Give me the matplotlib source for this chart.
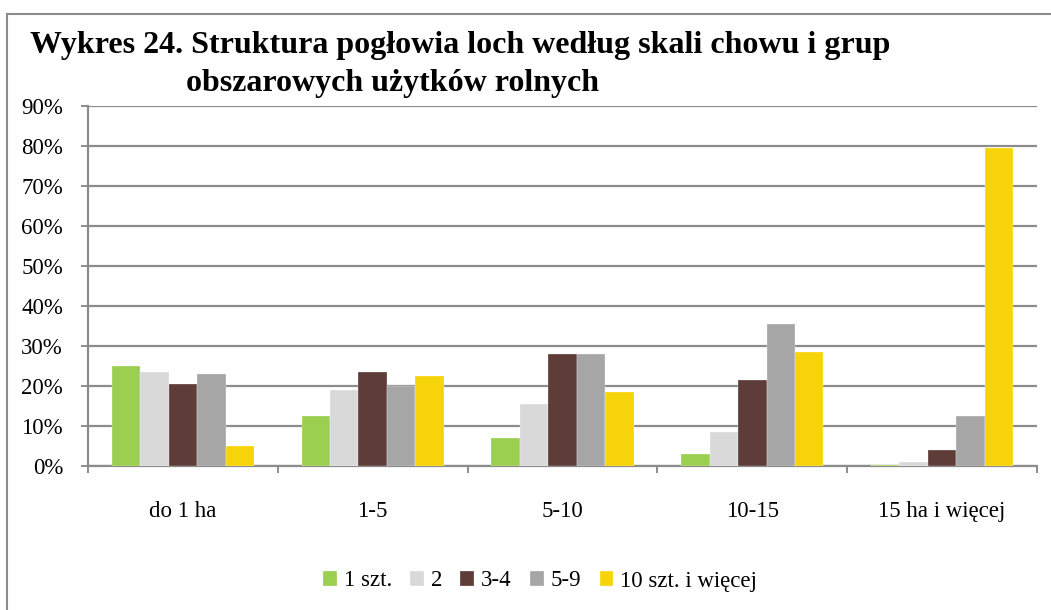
import numpy as np
import matplotlib
matplotlib.use('Agg')
import matplotlib.pyplot as plt
from matplotlib.lines import Line2D

# dane (%)
kategorie = ['do 1 ha', '1-5', '5-10', '10-15', '15 ha i więcej']
serie = ['1 szt.', '2', '3-4', '5-9', '10 szt. i więcej']
s1 = [25.2, 12.7, 7.2, 3.2, 0.3]
s2 = [23.7, 19.2, 15.6, 8.7, 1.2]
s3 = [20.6, 23.7, 28.2, 21.7, 4.2]
s4 = [23.2, 20.2, 28.2, 35.7, 12.7]
s5 = [5.2, 22.7, 18.7, 28.7, 79.7]
kolory = ['#9bcf50', '#d9d9d9', '#5e3c38', '#a6a6a6', '#f7d40a']

plt.rcParams['font.family'] = ['Liberation Serif', 'DejaVu Serif']

fig = plt.figure(figsize=(10.51, 6.10), dpi=100)
ax = fig.add_axes([88/1051, 1-466.3/610, (1037-88)/1051, (466.3-106.3)/610])

x = np.arange(len(kategorie)) + 0.5
w = 0.15
dane = [s1, s2, s3, s4, s5]
for k in range(5):
    ax.bar(x + (k-2)*w, dane[k], w, color=kolory[k], label=serie[k],
           edgecolor='white', linewidth=0.2, zorder=3)

ax.set_xlim(0, 5)
ax.set_ylim(0, 90)
ax.set_yticks(np.arange(0, 91, 10))
ax.set_yticklabels([f'{v}%' for v in range(0, 91, 10)], fontsize=16.5)
ax.yaxis.grid(True, color='#8c8c8c', linewidth=1.6, zorder=0)
ax.set_axisbelow(True)

ax.set_xticks(np.arange(0, 6))
ax.set_xticklabels([])
ax.set_xticks(x, minor=True)
ax.set_xticklabels(kategorie, minor=True, fontsize=16.5)
ax.tick_params(axis='x', which='minor', length=0, pad=25)
ax.tick_params(axis='x', which='major', length=5, width=1.4, color='#8c8c8c', direction='out')
ax.tick_params(axis='y', length=5, width=1.4, color='#8c8c8c', pad=13)

for s in ['top', 'right']:
    ax.spines[s].set_visible(False)
for s in ['left', 'bottom']:
    ax.spines[s].set_color('#8c8c8c')
    ax.spines[s].set_linewidth(1.6)

# tytul
fig.text(30/1051, 1-46/610, 'Wykres 24. Struktura pogłowia loch według skali chowu i grup',
         fontsize=23, fontweight='bold', va='center', ha='left')
fig.text(186/1051, 1-84/610, 'obszarowych użytków rolnych',
         fontsize=23, fontweight='bold', va='center', ha='left')

# ramka
fig.add_artist(Line2D([7/1051, 1.0], [1-14/610, 1-14/610], color='#8c8c8c', linewidth=1.5))
fig.add_artist(Line2D([7/1051, 7/1051], [0.0, 1-14/610], color='#8c8c8c', linewidth=1.5))

fig.legend(loc='center', bbox_to_anchor=(540/1051, 1-581/610), ncol=5, frameon=False,
           fontsize=16.5, handlelength=0.6, handleheight=0.6, handletextpad=0.3,
           columnspacing=0.8)

fig.savefig('out.png', dpi=100)
